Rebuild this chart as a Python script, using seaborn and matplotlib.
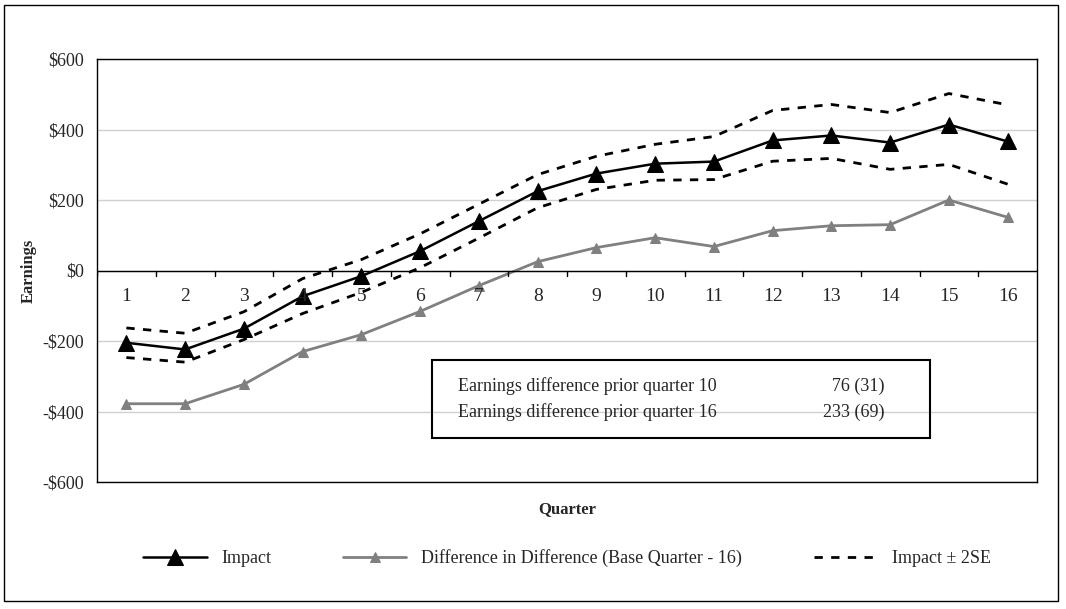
import matplotlib
matplotlib.use("Agg")
import matplotlib.pyplot as plt
import seaborn as sns
import pandas as pd
from matplotlib.patches import Rectangle

quarters = list(range(1, 17))
impact = [-205, -224, -165, -73, -16, 55, 140, 225, 275, 303, 309, 369, 383, 363, 414, 366]
did = [-378, -378, -323, -230, -182, -116, -43, 25, 65, 93, 68, 113, 127, 130, 200, 151]
upper = [-163, -178, -117, -23, 31, 104, 188, 272, 324, 358, 380, 454, 471, 448, 502, 470]
lower = [-247, -260, -196, -122, -62, 8, 92, 178, 230, 256, 258, 310, 318, 287, 301, 245]
yticks = [-600, -400, -200, 0, 200, 400, 600]

sns.set_theme(style="white")
plt.rcParams['font.family'] = ['Liberation Serif', 'DejaVu Serif']

df = pd.DataFrame({"q": quarters, "impact": impact, "did": did, "upper": upper, "lower": lower})

fig = plt.figure(figsize=(10.66, 6.09), dpi=100)
ax = fig.add_axes([97/1066, 1-482/609, (1037-97)/1066, (482-59)/609])

sns.lineplot(data=df, x="q", y="upper", ax=ax, color="black", lw=2, linestyle=(0, (3, 3)), label="Impact ± 2SE")
sns.lineplot(data=df, x="q", y="lower", ax=ax, color="black", lw=2, linestyle=(0, (3, 3)), label="_nolegend_")
sns.lineplot(data=df, x="q", y="did", ax=ax, color="#808080", lw=2, marker="^", markersize=7,
             markeredgecolor="#808080", label="Difference in Difference (Base Quarter - 16)")
sns.lineplot(data=df, x="q", y="impact", ax=ax, color="black", lw=1.8, marker="^", markersize=11,
             markeredgecolor="black", label="Impact")

ax.set_xlim(0.5, 16.5)
ax.set_ylim(-600, 600)
ax.set_yticks(yticks)
ax.set_yticklabels([f"-${-v}" if v < 0 else f"${v}" for v in yticks], fontsize=13)
ax.yaxis.grid(True, color="#d0d0d0", lw=1)
ax.set_xticks([])
ax.axhline(0, color="black", lw=1)
for b in [i + 0.5 for i in range(0, 16)]:
    ax.plot([b, b], [0, -15], color="black", lw=1)
for q in quarters:
    ax.text(q, -50, str(q), ha="center", va="top", fontsize=14)
for s in ax.spines.values():
    s.set_color("black"); s.set_linewidth(1)
ax.set_ylabel("Earnings", fontsize=12, fontweight="bold")
ax.set_xlabel("Quarter", fontsize=12, fontweight="bold", labelpad=14)

ax.text(0.384, 0.196, "Earnings difference prior quarter 10\nEarnings difference prior quarter 16",
        transform=ax.transAxes, fontsize=13, va="center", ha="left", linespacing=1.65)
ax.text(0.838, 0.196, "76 (31)\n233 (69)", transform=ax.transAxes, fontsize=13, va="center",
        ha="right", linespacing=1.65)
ax.add_patch(Rectangle((0.356, 0.104), 0.530, 0.184, transform=ax.transAxes, fill=False,
                       ec="black", lw=1.5))

h, l = ax.get_legend_handles_labels()
order = [l.index("Impact"), l.index("Difference in Difference (Base Quarter - 16)"), l.index("Impact ± 2SE")]
ax.legend([h[i] for i in order], [l[i] for i in order], loc="upper center", bbox_to_anchor=(0.5, -0.12),
          ncol=3, frameon=False, fontsize=13, handlelength=3.5, columnspacing=4)

fig.patches.append(Rectangle((4/1066, 1-601/609), 1054/1066, 596/609, transform=fig.transFigure,
                             fill=False, ec="black", lw=1))
fig.savefig("out.png", dpi=100)
